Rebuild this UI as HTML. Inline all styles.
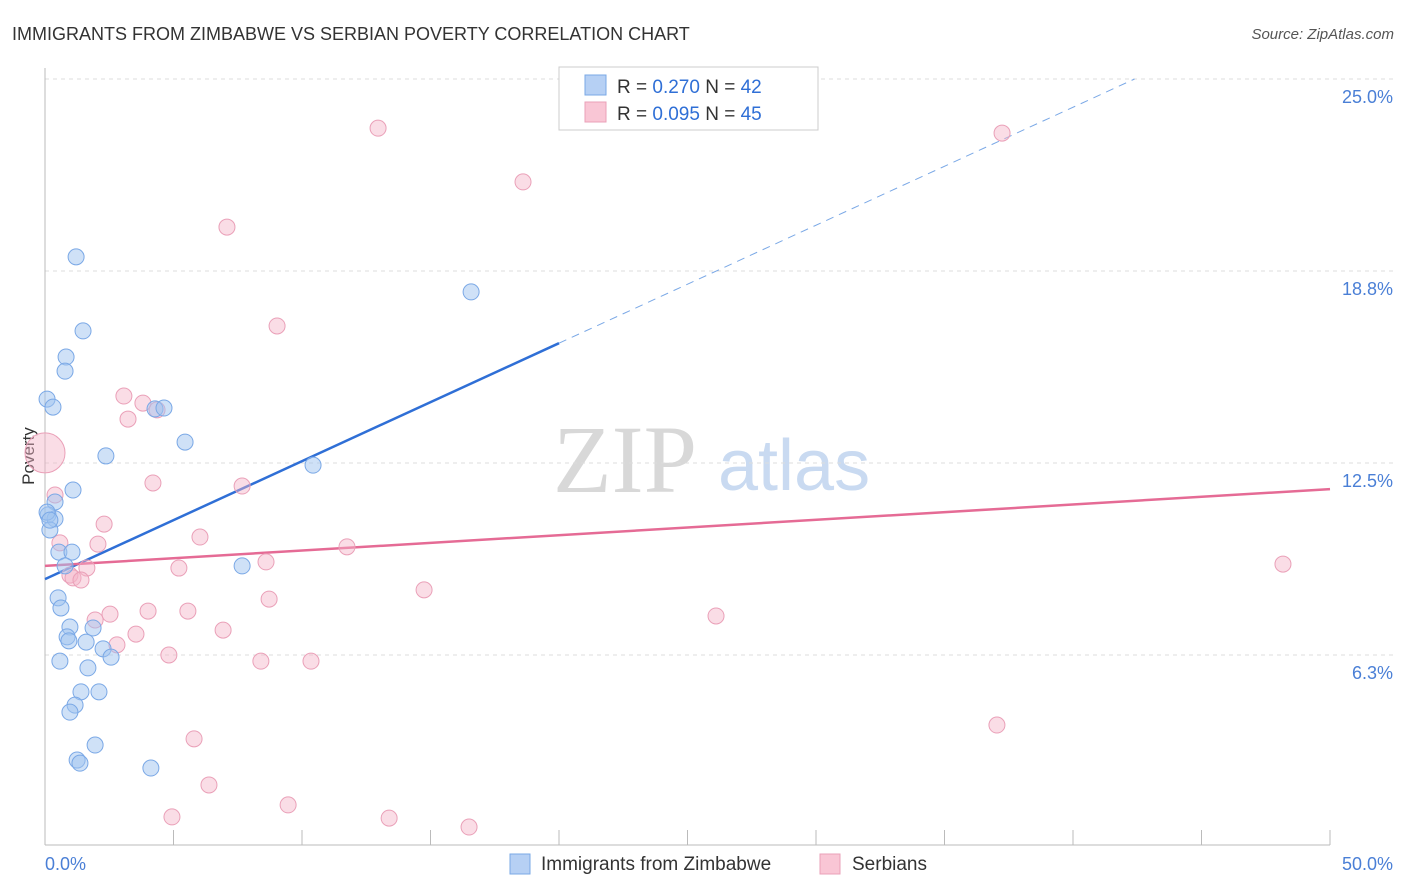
<!DOCTYPE html>
<html><head><meta charset="utf-8"><style>
body{margin:0;background:#fff;font-family:"Liberation Sans",sans-serif;}
svg{display:block}
</style></head><body>
<svg id="chart" width="1406" height="892">
<text x="12" y="40" font-size="18" fill="#333">IMMIGRANTS FROM ZIMBABWE VS SERBIAN POVERTY CORRELATION CHART</text>
<text x="1394" y="39" font-size="15" fill="#555" font-style="italic" text-anchor="end">Source: ZipAtlas.com</text>
<text x="34" y="456" font-size="17" fill="#333" transform="rotate(-90 34 456)" text-anchor="middle">Poverty</text>
<g>
<text x="553" y="492" font-size="96" fill="#d8d8d8" font-family="Liberation Serif,serif">ZIP</text>
<text x="718" y="490" font-size="72" fill="#c9daf1">atlas</text>
</g>
<g id="grid"></g>
<g id="axes"></g>
<g id="lines"></g>
<g id="points"></g>
<g>
<rect x="559" y="67" width="259" height="63" fill="#fff" stroke="#ccc"/>
<rect x="585" y="75" width="21" height="20" fill="#b6d0f4" stroke="#7aa8e6"/>
<rect x="585" y="102" width="21" height="20" fill="#f9c6d5" stroke="#eaa0b8"/>
<text x="617" y="93" font-size="19" fill="#333">R = <tspan fill="#2f6fd6">0.270</tspan>   N = <tspan fill="#2f6fd6">42</tspan></text>
<text x="617" y="120" font-size="19" fill="#333">R = <tspan fill="#2f6fd6">0.095</tspan>   N = <tspan fill="#2f6fd6">45</tspan></text>
</g>
<g>
<rect x="510" y="854" width="20" height="20" fill="#b6d0f4" stroke="#7aa8e6"/>
<text x="541" y="870" font-size="19" fill="#333">Immigrants from Zimbabwe</text>
<rect x="820" y="854" width="20" height="20" fill="#f9c6d5" stroke="#eaa0b8"/>
<text x="852" y="870" font-size="19" fill="#333">Serbians</text>
</g>
</svg>
<script>
const yTicks=[6.25,12.5,18.75,25];
const yTickLabels=["6.3%","12.5%","18.8%","25.0%"];
const xTickLabels=["0.0%","50.0%"];
const blueX=[1.21,16.58,1.48,0.82,0.78,0.08,0.31,4.28,4.63,5.45,2.37,10.43,1.09,0.39,0.12,0.39,0.19,0.54,1.05,0.78,7.67,0.51,0.62,0.97,1.87,0.86,0.93,1.60,2.26,2.57,0.58,1.67,1.40,2.10,1.17,0.97,1.95,1.25,1.36,4.12,0.08,0.19];
const blueY=[19.21,18.07,16.80,15.95,15.49,14.58,14.32,14.26,14.29,13.18,12.73,12.43,11.62,11.23,10.81,10.68,10.32,9.60,9.60,9.15,9.15,8.11,7.78,7.16,7.13,6.84,6.71,6.67,6.45,6.18,6.05,5.83,5.05,5.05,4.62,4.39,3.32,2.83,2.73,2.57,10.90,10.64];
const pinkX=[12.96,37.24,18.60,7.08,9.03,3.07,3.81,3.23,4.36,4.20,7.67,0.39,2.30,6.03,11.75,0.58,2.06,8.60,48.17,5.21,1.63,0.97,1.09,1.40,14.75,8.72,4.01,5.56,2.53,1.95,26.11,6.93,3.54,2.80,4.82,8.40,10.35,5.80,37.04,6.38,9.46,4.94,13.39,16.50];
const pinkY=[23.40,23.24,21.65,20.18,16.96,14.68,14.45,13.93,14.23,11.85,11.75,11.46,10.51,10.09,9.77,9.90,9.86,9.28,9.21,9.08,9.08,8.85,8.76,8.69,8.37,8.07,7.68,7.68,7.58,7.39,7.52,7.06,6.93,6.58,6.25,6.05,6.05,3.52,3.97,2.02,1.37,0.98,0.94,0.65];
const bigPink=[0,12.83];
const blueTrend=[8.72,0.384];
const pinkTrend=[9.15,0.05];
const NS="http://www.w3.org/2000/svg";
const X=v=>45+v*25.7, Y=v=>847-v*30.72;
function mk(p,t,a){const e=document.createElementNS(NS,t);for(const k in a)e.setAttribute(k,a[k]);p.appendChild(e);return e;}
const grid=document.getElementById('grid'),axes=document.getElementById('axes'),lines=document.getElementById('lines'),pts=document.getElementById('points');
yTicks.forEach((t,i)=>{
 const l=mk(grid,'line',{x1:45,x2:1393,y1:Y(t),y2:Y(t),stroke:'#ddd','stroke-dasharray':'4,4'});
 
 
 const tx=mk(grid,'text',{x:1393,y:Y(t)+24,'font-size':18,fill:'#4a7fd6','text-anchor':'end'});
 tx.textContent=yTickLabels[i];
 
 
});
const ax=mk(axes,'line',{x1:45,x2:1330,y1:845,y2:845,stroke:'#bbb'});


const ay=mk(axes,'line',{x1:45,x2:45,y1:68,y2:845,stroke:'#bbb'});


for(let i=0;i<=10;i++){
 const t=mk(axes,'line',{x1:X(i*5),x2:X(i*5),y1:830,y2:845,stroke:'#bbb'});
 
 
}
const xl0=mk(axes,'text',{x:45,y:870,'font-size':18,fill:'#4a7fd6'});xl0.textContent=xTickLabels[0];


const xl1=mk(axes,'text',{x:1393,y:870,'font-size':18,fill:'#4a7fd6','text-anchor':'end'});xl1.textContent=xTickLabels[1];


pinkX.forEach((x,i)=>{
 const c=mk(pts,'circle',{cx:X(x),cy:Y(pinkY[i]),r:8,fill:'rgba(245,180,200,0.45)',stroke:'#eaa0b8'});
 
 
});
const bp=mk(pts,'circle',{cx:X(bigPink[0]),cy:Y(bigPink[1]),r:20,fill:'rgba(245,180,200,0.45)',stroke:'#eaa0b8'});


blueX.forEach((x,i)=>{
 const c=mk(pts,'circle',{cx:X(x),cy:Y(blueY[i]),r:8,fill:'rgba(160,196,240,0.5)',stroke:'#7aa8e6'});
 
 
});
const bxEnd=20, bxDash=(25-blueTrend[0])/blueTrend[1];
const b1=mk(lines,'line',{x1:X(0),y1:Y(blueTrend[0]),x2:X(bxEnd),y2:Y(blueTrend[0]+blueTrend[1]*bxEnd),stroke:'#2f6fd6','stroke-width':2.5});


const b2=mk(lines,'line',{x1:X(bxEnd),y1:Y(blueTrend[0]+blueTrend[1]*bxEnd),x2:X(bxDash),y2:Y(25),stroke:'#7aa8e6','stroke-width':1,'stroke-dasharray':'8,6'});


const p1=mk(lines,'line',{x1:X(0),y1:Y(pinkTrend[0]),x2:X(50),y2:Y(pinkTrend[0]+pinkTrend[1]*50),stroke:'#e56b95','stroke-width':2.5});


</script>
</body></html>
